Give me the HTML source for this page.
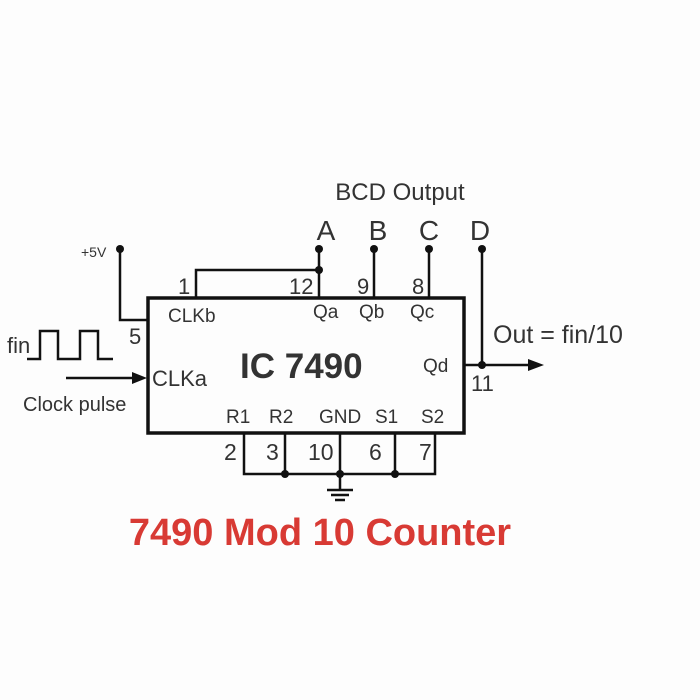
<!DOCTYPE html>
<html><head><meta charset="utf-8"><style>
html,body{margin:0;padding:0;background:#fff;}
svg{display:block}
text{font-family:"Liberation Sans",sans-serif;fill:#333}
</style></head><body>
<svg width="700" height="700" viewBox="0 0 700 700">
<rect width="700" height="700" fill="#fdfdfd"/>
<g stroke="#111" fill="none" stroke-width="2.5">
<rect x="148" y="298" width="316" height="135" stroke-width="3.5"/>
<polyline points="120,249 120,320 148,320"/>
<polyline points="196,298 196,270 319,270"/>
<line x1="319" y1="249" x2="319" y2="298"/>
<line x1="374" y1="249" x2="374" y2="298"/>
<line x1="429" y1="249" x2="429" y2="298"/>
<line x1="482" y1="249" x2="482" y2="365"/>
<line x1="464" y1="365" x2="528" y2="365"/>
<polyline points="244,433 244,474 435,474 435,433"/>
<line x1="285" y1="433" x2="285" y2="474"/>
<line x1="340" y1="433" x2="340" y2="490"/>
<line x1="395" y1="433" x2="395" y2="474"/>
<line x1="327" y1="490" x2="353" y2="490"/>
<line x1="331" y1="495" x2="349" y2="495"/>
<line x1="335" y1="500" x2="345" y2="500"/>
<polyline points="27,359 40,359 40,331 58,331 58,359 80,359 80,331 98,331 98,359 113,359"/>
<line x1="66" y1="378" x2="135" y2="378"/>
</g>
<polygon points="528,359 544,365 528,371" fill="#111"/>
<polygon points="132,372 147,378 132,384" fill="#111"/>
<g fill="#111">
<circle cx="120" cy="249" r="4"/><circle cx="319" cy="249" r="4"/><circle cx="319" cy="270" r="4"/>
<circle cx="374" cy="249" r="4"/><circle cx="429" cy="249" r="4"/><circle cx="482" cy="249" r="4"/>
<circle cx="482" cy="365" r="4"/><circle cx="285" cy="474" r="4"/><circle cx="340" cy="474" r="4"/><circle cx="395" cy="474" r="4"/>
</g>
<text x="400" y="200" font-size="24" text-anchor="middle">BCD Output</text>
<text x="326" y="240" font-size="28" text-anchor="middle">A</text>
<text x="378" y="240" font-size="28" text-anchor="middle">B</text>
<text x="429" y="240" font-size="28" text-anchor="middle">C</text>
<text x="480" y="240" font-size="28" text-anchor="middle">D</text>
<text x="81" y="257" font-size="14">+5V</text>
<text x="178" y="294" font-size="22">1</text>
<text x="289" y="294" font-size="22">12</text>
<text x="357" y="294" font-size="22">9</text>
<text x="412" y="294" font-size="22">8</text>
<text x="129" y="344" font-size="22">5</text>
<text x="168" y="322" font-size="19">CLKb</text>
<text x="313" y="318" font-size="19">Qa</text>
<text x="359" y="318" font-size="19">Qb</text>
<text x="410" y="318" font-size="19">Qc</text>
<text x="423" y="372" font-size="19">Qd</text>
<text x="152" y="386" font-size="22">CLKa</text>
<text x="240" y="378" font-size="35" font-weight="bold">IC 7490</text>
<text x="7" y="353" font-size="22">fin</text>
<text x="23" y="411" font-size="20">Clock pulse</text>
<text x="493" y="343" font-size="25">Out = fin/10</text>
<text x="471" y="391" font-size="22">11</text>
<text x="226" y="423" font-size="19">R1</text>
<text x="269" y="423" font-size="19">R2</text>
<text x="319" y="423" font-size="19">GND</text>
<text x="375" y="423" font-size="19">S1</text>
<text x="421" y="423" font-size="19">S2</text>
<text x="224" y="460" font-size="23">2</text>
<text x="266" y="460" font-size="23">3</text>
<text x="308" y="460" font-size="23">10</text>
<text x="369" y="460" font-size="23">6</text>
<text x="419" y="460" font-size="23">7</text>
<text x="320" y="545" font-size="38" font-weight="bold" text-anchor="middle" style="fill:#d83a34">7490 Mod 10 Counter</text>
</svg>
</body></html>
